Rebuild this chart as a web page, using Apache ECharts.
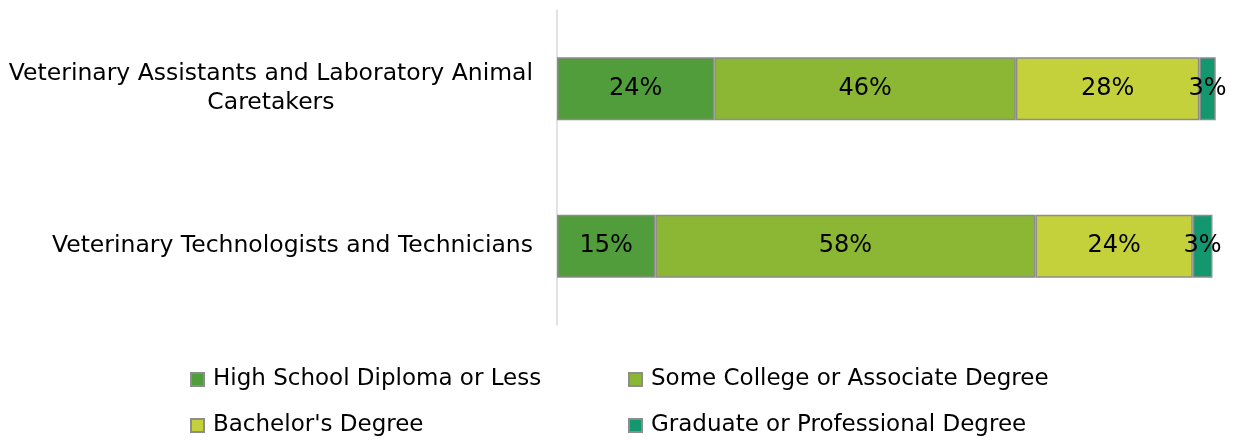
<!DOCTYPE html>
<html>
<head>
<meta charset="utf-8">
<script src="https://cdn.jsdelivr.net/npm/echarts@6/dist/echarts.min.js"></script>
<style>
  html, body { margin: 0; padding: 0; background: #fff; }
  #chart { width: 1237px; height: 440px; }
</style>
</head>
<body>
<div id="chart"></div>
<script>
var categories = [
    'Veterinary Assistants and Laboratory Animal\nCaretakers',
    'Veterinary Technologists and Technicians'
];
var seriesNames = [
    'High School Diploma or Less',
    'Some College or Associate Degree',
    "Bachelor's Degree",
    'Graduate or Professional Degree'
];
// percent of workers, one value per category
var highSchool = [24, 15];
var someCollege = [46, 58];
var bachelors = [28, 24];
var graduate = [2.5, 3];

var colors = ['#519d3b', '#8bb734', '#c5d13a', '#12976f'];
var fontFamily = '"DejaVu Sans", sans-serif';

var chart = echarts.init(document.getElementById('chart'));

var values = [highSchool, someCollege, bachelors, graduate];

var series = seriesNames.map(function (name, i) {
    return {
        name: name,
        type: 'bar',
        stack: 'total',
        barWidth: 63,
        data: values[i],
        itemStyle: {
            color: colors[i],
            borderColor: '#8c8c8c',
            borderWidth: 1.5
        },
        label: {
            show: true,
            position: 'inside',
            color: '#000',
            fontFamily: fontFamily,
            fontSize: 24,
            formatter: function (p) {
                return Math.round(p.value) + '%';
            }
        }
    };
});

// legend: 2 columns x 2 rows, one legend per item so the columns line up
var legendPos = [[185, 363], [623, 363], [185, 409], [623, 409]];
var legends = seriesNames.map(function (name, i) {
    return {
        data: [name],
        left: legendPos[i][0],
        top: legendPos[i][1],
        icon: 'rect',
        itemWidth: 13,
        itemHeight: 13,
        textStyle: {
            color: '#000',
            fontFamily: fontFamily,
            fontSize: 23,
            lineHeight: 22,
            padding: [0, 0, 0, 4]
        }
    };
});

chart.setOption({
    animation: false,
    grid: {
        left: 557,
        right: 18,
        top: 10,
        bottom: 115
    },
    xAxis: {
        type: 'value',
        min: 0,
        max: 101,
        show: false
    },
    yAxis: {
        type: 'category',
        inverse: true,
        data: categories,
        axisLine: { show: true, lineStyle: { color: '#d9d9d9', width: 1.5 } },
        axisTick: { show: false },
        axisLabel: {
            margin: 24,
            align: 'right',
            formatter: function (v) {
                return v.split('\n').map(function (s) { return '{c|' + s + '}'; }).join('\n');
            },
            rich: {
                c: {
                    align: 'center',
                    color: '#000',
                    fontFamily: fontFamily,
                    fontSize: 23.5,
                    lineHeight: 29
                }
            }
        }
    },
    legend: legends,
    series: series
});
</script>
</body>
</html>
